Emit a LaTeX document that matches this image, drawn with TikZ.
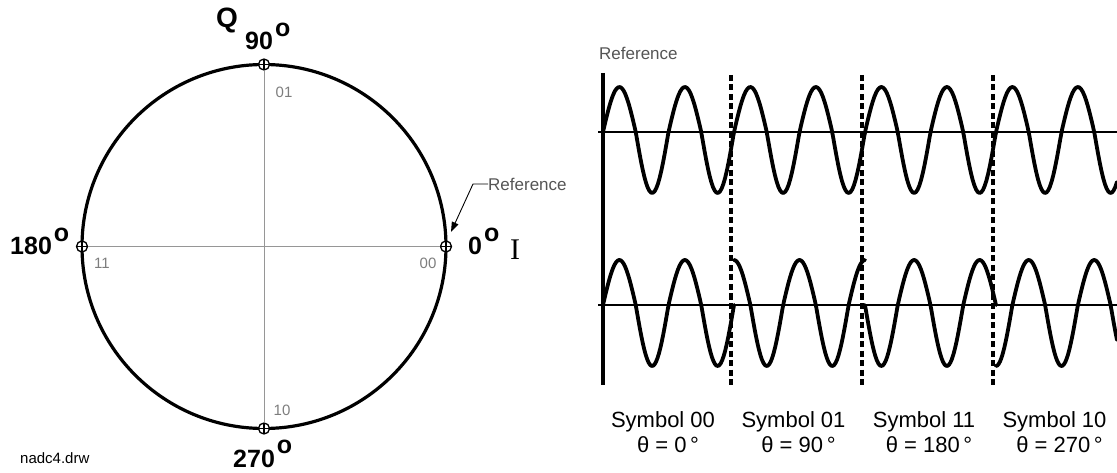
\documentclass[tikz,border=0pt]{standalone}
\usepackage{fontspec}
\setmainfont{Liberation Sans}
\newfontfamily\iserif{Liberation Serif}
\usetikzlibrary{arrows.meta}
\definecolor{bitgray}{RGB}{125,125,125}
\definecolor{refgray}{RGB}{85,85,85}
\definecolor{crossgray}{RGB}{150,150,150}

\begin{document}
\begin{tikzpicture}[x=1pt, y=-1pt,
  wave/.style={line width=3.8pt, line join=round, line cap=round},
  baseaxis/.style={line width=2pt},
  symdash/.style={line width=3.5pt, dash pattern=on 6pt off 3.5pt},
  ring/.style={line width=3.2pt},
  crossline/.style={crossgray, line width=0.9pt},
  qpoint/.style={circle, draw, fill=white, line width=1.3pt, minimum size=11pt, inner sep=0pt,
    path picture={\draw[line width=1.3pt]
      (path picture bounding box.north) -- (path picture bounding box.south)
      (path picture bounding box.west) -- (path picture bounding box.east);}},
  anglab/.style={font=\fontsize{25}{28}\selectfont\bfseries, inner sep=0pt},
  bitlab/.style={font=\fontsize{15}{17}\selectfont, text=bitgray, inner sep=0pt},
  reflab/.style={font=\fontsize{17}{19}\selectfont, text=refgray, inner sep=0pt},
  symlab/.style={font=\fontsize{22}{24}\selectfont, inner sep=0pt},
  declare function={wv(\a)=45*max(sin(\a),0)+61*min(sin(\a),0);},
]
  % Constants
  \def\xa{603}   % start of the waves
  \def\per{65.5} % one carrier period
  \def\sw{131}   % one symbol = two periods

  \useasboundingbox (0,0) rectangle (1117,473);

  % ---------- IQ circle ----------
  \coordinate (ctr) at (264,246.5);
  \draw[ring] (ctr) circle (182);

  \node[qpoint] (p0)   at (446,246.5) {};
  \node[qpoint] (p90)  at (264,64.5)  {};
  \node[qpoint] (p180) at (82,246.5)  {};
  \node[qpoint] (p270) at (264,428.5) {};

  % I and Q axes
  \draw[crossline] (p90) -- (p270);
  \draw[crossline] (p180) -- (p0);

  % Angle labels
  \node[anglab, font=\fontsize{28}{30}\selectfont\bfseries, anchor=base east] (qlab) at (238,28) {Q};
  \node[anglab, anchor=base west] (l90)  at (245,50)  {90\hspace{2pt}\raisebox{.55em}{o}};
  \node[anglab, anchor=base west] (l180) at (10,255)  {180\hspace{2pt}\raisebox{.55em}{o}};
  \node[anglab, anchor=base west] (l0)   at (468,255) {0\hspace{2pt}\raisebox{.55em}{o}};
  \node[anchor=base west, inner sep=0pt, font=\iserif\fontsize{30}{32}\selectfont] (ilab) at (510,260) {I};
  \node[anglab, anchor=base west] (l270) at (233,467) {270\hspace{2pt}\raisebox{.55em}{o}};

  % Bit pairs
  \node[bitlab] (b01) at (284,92)  {01};
  \node[bitlab] (b11) at (102,263) {11};
  \node[bitlab] (b00) at (428,263) {00};
  \node[bitlab] (b10) at (282,410) {10};

  % Reference pointer
  \node[reflab, anchor=west] (refside) at (488,184) {Reference};
  \coordinate (reftip) at (451,232);
  \draw[line width=0.9pt, -{Triangle[length=10pt,width=7pt]}] (refside.west) -- ++(-15,0) -- (reftip);

  \node[font=\fontsize{15}{17}\selectfont, anchor=base west, inner sep=0pt] (fname) at (20,463) {nadc4.drw};

  % ---------- waveforms ----------
  \node[reflab, anchor=base west] (reftop) at (599,60) {Reference};

  % base lines
  \draw[baseaxis] (598,132) -- (1117,132);
  \draw[baseaxis] (598,305) -- (1117,305);
  \draw[line width=3.5pt] (\xa,73) -- (\xa,385);

  % reference carrier (top)
  \draw[wave] plot[domain=\xa:1117, samples=300] (\x, {132 - wv((\x-\xa)/\per*360)});

  % phase shifted carrier (bottom), 90 deg per symbol
  \foreach \k in {0,1,2,3} {
    \pgfmathsetmacro\ks{\xa+\sw*\k}
    \pgfmathsetmacro\ke{min(\xa+\sw*(\k+1),1117)}
    \draw[wave] plot[domain=\ks:\ke, samples=90] (\x, {305 - wv((\x-\ks)/\per*360 + 90*\k)});
  }

  % symbol borders
  \foreach \k in {1,2,3} {
    \draw[symdash] ({\xa+\sw*\k-3},75) -- ++(0,310);
  }

  % symbol labels
  \foreach \k/\sym/\ang in {0/00/0, 1/01/90, 2/11/180, 3/10/270} {
    \node[symlab, anchor=base] (sym\sym) at ({663+130.5*\k},427) {Symbol \sym};
    \node[symlab, anchor=base] (ang\sym) at ({668+130.5*\k},452) {θ = \ang\,°};
  }

\end{tikzpicture}
\end{document}
